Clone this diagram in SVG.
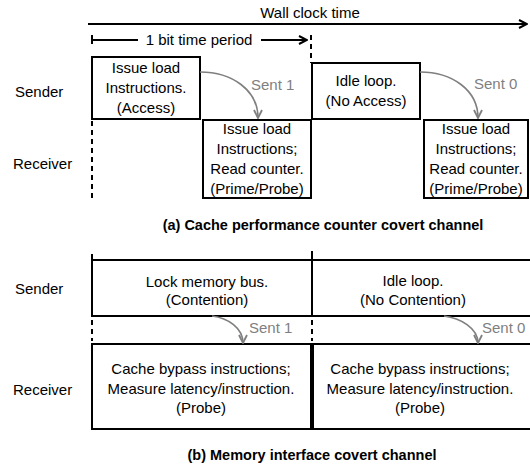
<svg xmlns="http://www.w3.org/2000/svg" width="530" height="466" viewBox="0 0 530 466">
  <style>
    text { font-family: "Liberation Sans", Arial, sans-serif; font-size: 15px; fill: #000; }
    .c { text-anchor: middle; }
    .cap { font-weight: bold; font-size: 14.5px; text-anchor: middle; }
    .sent { fill: #7f7f7f; }
    .box { fill: #fff; stroke: #000; stroke-width: 2; }
    .line { stroke: #000; stroke-width: 2; fill: none; }
    .dash { stroke: #000; stroke-width: 2; fill: none; stroke-dasharray: 5 4; }
    .flow { stroke: #7f7f7f; stroke-width: 1.6; fill: none; marker-end: url(#grayHead); }
  </style>
  <defs>
    <marker id="blackHead" viewBox="0 0 10 10" refX="9" refY="5" markerWidth="10" markerHeight="10" markerUnits="userSpaceOnUse" orient="auto">
      <path d="M1,1 L9,5 L1,9" fill="none" stroke="#000" stroke-width="2"/>
    </marker>
    <marker id="grayHead" viewBox="0 0 10 10" refX="9" refY="5" markerWidth="10" markerHeight="10" markerUnits="userSpaceOnUse" orient="auto">
      <path d="M1,1 L9,5 L1,9" fill="none" stroke="#7f7f7f" stroke-width="1.8"/>
    </marker>
  </defs>

  <!-- timeline header -->
  <g id="timeline">
    <text class="c" x="310" y="18">Wall clock time</text>
    <line class="line" x1="88" y1="24" x2="527" y2="24" marker-end="url(#blackHead)"/>
    <line class="line" x1="92" y1="35" x2="92" y2="44"/>
    <line class="line" x1="92" y1="40" x2="138" y2="40"/>
    <text class="c" x="199" y="45">1 bit time period</text>
    <line class="line" x1="261" y1="40" x2="307" y2="40" marker-end="url(#blackHead)"/>
  </g>

  <!-- row labels -->
  <g id="labels">
    <text x="15" y="97">Sender</text>
    <text x="13" y="169">Receiver</text>
    <text x="15" y="294">Sender</text>
    <text x="13" y="395">Receiver</text>
  </g>

  <!-- (a) cache performance counter channel -->
  <g id="a-send-1">
    <rect class="box" x="92" y="57" width="108" height="62"/>
    <text class="c" x="146" y="73">Issue load</text>
    <text class="c" x="146" y="93">Instructions.</text>
    <text class="c" x="146" y="113">(Access)</text>
  </g>
  <g id="a-recv-1">
    <rect class="box" x="203" y="120" width="108" height="78"/>
    <text class="c" x="257" y="134">Issue load</text>
    <text class="c" x="257" y="154">Instructions;</text>
    <text class="c" x="257" y="174">Read counter.</text>
    <text class="c" x="257" y="194">(Prime/Probe)</text>
  </g>
  <g id="a-send-0">
    <rect class="box" x="312" y="63" width="108" height="56"/>
    <text class="c" x="366" y="86">Idle loop.</text>
    <text class="c" x="366" y="106">(No Access)</text>
  </g>
  <g id="a-recv-0">
    <rect class="box" x="424" y="120" width="104" height="78"/>
    <text class="c" x="476" y="134">Issue load</text>
    <text class="c" x="476" y="154">Instructions;</text>
    <text class="c" x="476" y="174">Read counter.</text>
    <text class="c" x="476" y="194">(Prime/Probe)</text>
  </g>
  <text class="cap" x="323" y="230">(a) Cache performance counter covert channel</text>

  <!-- (b) memory interface channel -->
  <g id="b-send-1">
    <rect class="box" x="92" y="260" width="220" height="56"/>
    <text class="c" x="207" y="287">Lock memory bus.</text>
    <text class="c" x="207" y="305">(Contention)</text>
  </g>
  <g id="b-send-0">
    <rect class="box" x="312" y="260" width="222" height="56"/>
    <text class="c" x="413" y="286">Idle loop.</text>
    <text class="c" x="413" y="305">(No Contention)</text>
  </g>
  <g id="b-recv-1">
    <rect class="box" x="92" y="344" width="219" height="85"/>
    <text class="c" x="201" y="374">Cache bypass instructions;</text>
    <text class="c" x="201" y="394">Measure latency/instruction.</text>
    <text class="c" x="201" y="413">(Probe)</text>
  </g>
  <g id="b-recv-0">
    <rect class="box" x="313" y="344" width="221" height="85"/>
    <text class="c" x="420" y="374">Cache bypass instructions;</text>
    <text class="c" x="420" y="394">Measure latency/instruction.</text>
    <text class="c" x="420" y="413">(Probe)</text>
  </g>
  <text class="cap" x="312" y="460">(b) Memory interface covert channel</text>

  <!-- connectors: period markers and sent-bit flows -->
  <g id="connectors">
    <line class="dash" x1="311" y1="35" x2="311" y2="63"/>
    <line class="dash" x1="92" y1="121" x2="92" y2="198"/>
    <line class="line" x1="92" y1="254" x2="92" y2="260"/>
    <line class="line" x1="312" y1="251" x2="312" y2="260"/>
    <line class="dash" x1="92" y1="320" x2="92" y2="341"/>
    <line class="dash" x1="312" y1="320" x2="312" y2="341"/>

    <path class="flow" d="M200,72 C232,72 258,90 258,118"/>
    <text class="sent" x="251" y="90">Sent 1</text>
    <path class="flow" d="M420,72 C452,72 478,90 478,118"/>
    <text class="sent" x="474" y="89">Sent 0</text>

    <path class="flow" d="M212,316 C228,318 243,328 243,343"/>
    <text class="sent" x="249" y="333">Sent 1</text>
    <path class="flow" d="M444,316 C460,318 478,328 478,343"/>
    <text class="sent" x="482" y="333">Sent 0</text>
  </g>
</svg>
